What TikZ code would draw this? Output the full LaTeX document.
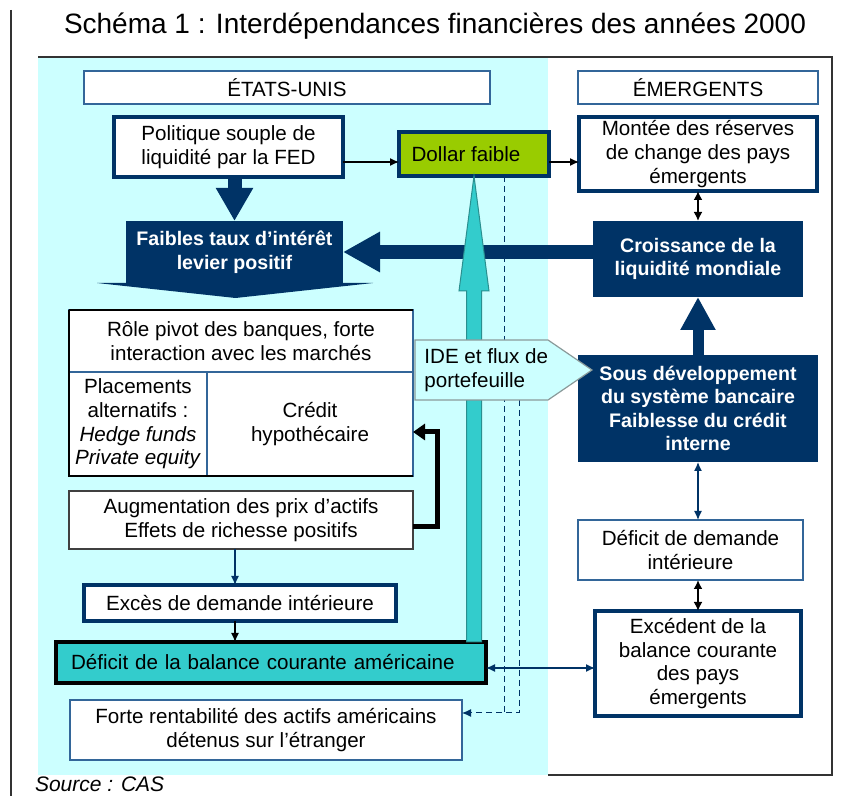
\documentclass[tikz,border=0pt]{standalone}
\usepackage{fontspec}
\setmainfont{Liberation Sans}
\usepackage{tikz}
\usetikzlibrary{calc,arrows.meta}
\definecolor{navy}{HTML}{003366}
\definecolor{midblue}{HTML}{336699}
\definecolor{bgcyan}{HTML}{CCFFFF}
\definecolor{turq}{HTML}{33CCCC}
\definecolor{turqline}{HTML}{2A8F8F}
\definecolor{dollargreen}{HTML}{99CC00}
\definecolor{idegrey}{HTML}{8A9A9A}
\tikzset{
  frame/.style={draw=black!80, line width=0.75pt},
  box/.style={draw=midblue, line width=0.7pt, fill=white, align=center, inner sep=0pt, outer sep=0pt, font=\fontsize{10.3}{11.8}\selectfont},
  thickbox/.style={box, draw=navy, line width=2pt},
  darkbox/.style={box, draw=none, fill=navy, text=white, font=\bfseries\fontsize{9.8}{11.8}\selectfont},
  thinarrow/.style={draw=black, line width=0.6pt, -{Latex[length=4.5pt,width=4pt]}},
  navyarrow/.style={draw=navy, line width=0.6pt, -{Latex[length=4.5pt,width=4pt]}},
  twoway/.style={draw=black, line width=1pt, {Latex[length=4.5pt,width=4.5pt]}-{Latex[length=4.5pt,width=4.5pt]}},
  navytwoway/.style={draw=navy, line width=0.7pt, {Latex[length=4.5pt,width=4pt]}-{Latex[length=4.5pt,width=4pt]}},
  dashedline/.style={draw=navy, line width=0.5pt, dash pattern=on 3pt off 2pt},
  blockarrow/.style={draw=navy}
}

\begin{document}
\begin{tikzpicture}[x=0.5pt, y=-0.5pt]
  \useasboundingbox (0,0) rectangle (842,796);
  % background and frame
  \fill[bgcyan] (38,57) rectangle (548,775);
  \draw[frame] (11,10) -- (11,800);
  \draw[frame] (38,57) -- (832,57) -- (832,775) -- (548,775);

  \node[font=\fontsize{14}{16}\selectfont] (title) at (435,26) {Schéma 1 : Interdépendances financières des années 2000};
  \node[font=\itshape\fontsize{10.5}{12}\selectfont, anchor=base west] (source) at (28,792) {Source : CAS};

  % headers
  \node[box, minimum width=203pt, minimum height=16.5pt] (etats) at (287,87.5) {ÉTATS-UNIS};
  \node[box, minimum width=120pt, minimum height=16.5pt] (emerg) at (698,87.5) {ÉMERGENTS};

  % left column
  \node[thickbox, minimum width=114.5pt, minimum height=30pt] (politique) at (228.5,147) {Politique souple de\\liquidité par la FED};
  \node[thickbox, fill=dollargreen, minimum width=75pt, minimum height=22pt] (dollar) at (474,154) {Dollar faible\hspace*{8pt}};
  \node[darkbox, minimum width=108.5pt, minimum height=31pt] (faibles) at (234.5,252) {Faibles taux d’intérêt\\levier positif};
  \fill[navy] ($(faibles.south west)+(-29,0)$) -- ($(faibles.south east)+(30,0)$) -- ($(faibles.south)+(1,15)$) -- cycle;

  \node[box, minimum width=172pt, minimum height=31pt] (role) at (241,341) {Rôle pivot des banques, forte\\interaction avec les marchés};
  \node[box, anchor=north west, minimum width=69pt, minimum height=52pt] (placements) at (role.south west) {Placements\\alternatifs :\\\textit{Hedge funds}\\\textit{Private equity}};
  \node[box, anchor=north west, minimum width=103pt, minimum height=52pt] (credit) at (placements.north east) {Crédit\\hypothécaire};
  \draw[line width=1.2pt] (role.north west) -- (placements.south west) -- (credit.south east);
  \draw[line width=0.6pt] (role.north west) -- (role.north east);

  \node[box, draw=black!75, minimum width=172pt, minimum height=29pt] (augment) at (241,520) {Augmentation des prix d’actifs\\Effets de richesse positifs};
  \node[thickbox, minimum width=156pt, minimum height=18pt] (exces) at (240,603) {Excès de demande intérieure};
  \node[thickbox, draw=black, fill=turq, minimum width=215pt, minimum height=20.5pt, text width=200pt, align=left] (deficit) at (271,662.5) {Déficit de la balance courante américaine};
  \node[box, minimum width=196pt, minimum height=30pt] (forte) at (266,730) {Forte rentabilité des actifs américains\\détenus sur l’étranger};

  % right column
  \node[thickbox, minimum width=119pt, minimum height=37pt] (montee) at (698,154) {Montée des réserves\\de change des pays\\émergents};
  \node[darkbox, minimum width=105pt, minimum height=38pt] (croissance) at (698,259) {Croissance de la\\liquidité mondiale};
  \node[darkbox, minimum width=120pt, minimum height=53.5pt] (sousdev) at (698,408.5) {Sous développement\\du système bancaire\\Faiblesse du crédit\\interne};
  \node[box, minimum width=112.5pt, minimum height=30pt] (defdem) at (690.5,550) {Déficit de demande\\intérieure};
  \node[thickbox, minimum width=103pt, minimum height=52.5pt] (excedent) at (698,663.5) {Excédent de la\\balance courante\\des pays\\émergents};

  % block arrows
  \draw[blockarrow, line width=7pt, -{Triangle[length=18.5pt,width=19pt]}] (croissance.west |- faibles.east) -- (faibles.east);
  \draw[blockarrow, line width=5.5pt, -{Triangle[length=16.5pt,width=16.5pt]}] (sousdev.north) -- (croissance.south);
  \draw[blockarrow, line width=7pt, -{Triangle[length=16.5pt,width=17.5pt]}] (faibles.north |- politique.south) -- (faibles.north);
  \coordinate (ct) at (dollar.south);
  \coordinate (cb) at (dollar.south |- deficit.north);
  \filldraw[fill=turq, draw=turqline, line width=0.5pt] (ct) -- ($(ct)+(15,115)$) -- ($(ct)+(7.5,115)$) -- ($(cb)+(7.5,0)$) -- ($(cb)+(-7.5,0)$) -- ($(ct)+(-7.5,115)$) -- ($(ct)+(-15,115)$) -- cycle;

  % dashed flows
  \coordinate (idebot) at (519,400);
  \coordinate (dashturn) at (519,713);
  \draw[dashedline] ($(dollar.south)+(30,0)$) -- ($(dashturn)+(-15,0)$);
  \draw[dashedline, -{Latex[length=4.5pt,width=4pt]}] (idebot) -- (dashturn) -- (forte.east |- dashturn);

  % IDE flows
  \filldraw[fill=bgcyan, draw=idegrey, line width=0.6pt] (415,340) -- (548,340) -- (592,370) -- (548,400) -- (415,400) -- cycle;
  \node[anchor=west, align=left, inner sep=0pt, font=\fontsize{10.3}{11.8}\selectfont] (ide) at (424,370) {IDE et flux de\\portefeuille};

  % thin arrows
  \draw[thinarrow] ($(politique.east)+(0,15)$) -- ($(dollar.west)+(0,8)$);
  \draw[thinarrow] ($(dollar.east)+(0,8)$) -- ($(montee.west)+(0,8)$);
  \draw[twoway] (montee.south) -- (croissance.north);
  \draw[navytwoway] (sousdev.south) -- (sousdev.south |- defdem.north);
  \draw[twoway] (excedent.north |- defdem.south) -- (excedent.north);
  \draw[navytwoway] ($(deficit.east)+(0,5.5)$) -- ($(excedent.west)+(0,4.5)$);
  \draw[navyarrow] ($(augment.south)+(-6,0)$) -- ($(exces.north)+(-5,0)$);
  \draw[thinarrow] ($(exces.south)+(-5,0)$) -- ($(deficit.north)+(-36,0)$);
  \draw[line width=2.5pt, -{Triangle[length=6pt,width=8pt]}] ($(augment.east)+(0,7)$) -- ++(24,0) |- ($(credit.east)+(0,8)$);
\end{tikzpicture}
\end{document}
